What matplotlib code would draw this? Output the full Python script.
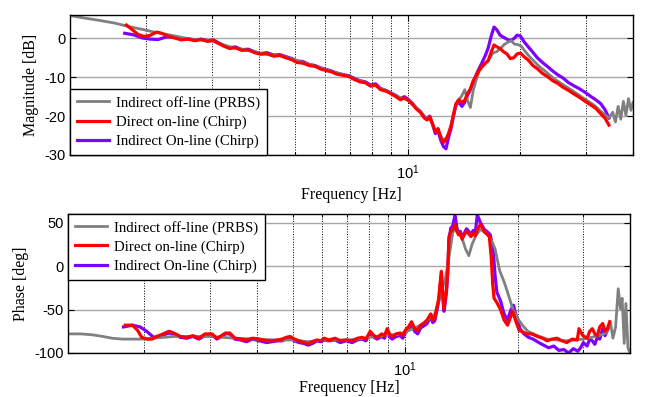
import matplotlib
matplotlib.use("Agg")
import matplotlib.pyplot as plt
from matplotlib.ticker import FixedLocator, NullFormatter, FixedFormatter

# ---------------- data ----------------
legend_labels = ["Indirect off-line (PRBS)", "Direct on-line (Chirp)", "Indirect On-line (Chirp)"]

# Magnitude [dB]
mag_red_f = [1.77, 1.83, 1.90, 1.97, 2.04, 2.13, 2.20, 2.28, 2.38, 2.48, 2.58, 2.70, 2.80, 2.92, 3.02, 3.10,
             3.22, 3.34, 3.46, 3.60, 3.75, 3.90, 4.05, 4.20, 4.38, 4.55, 4.72, 4.90, 5.05, 5.25, 5.45, 5.65,
             5.85, 6.05, 6.25, 6.45, 6.70, 6.95, 7.20, 7.45, 7.70, 7.95, 8.20, 8.45, 8.75, 9.00, 9.30, 9.55,
             9.80, 10.05, 10.30, 10.55, 10.80, 11.05, 11.25, 11.45, 11.65, 11.85, 12.05, 12.25, 12.45, 12.65,
             12.85, 13.05, 13.25, 13.45, 13.70, 13.95, 14.20, 14.45, 14.70, 14.95, 15.20, 15.50, 15.80, 16.10,
             16.40, 16.70, 17.00, 17.30, 17.65, 18.00, 18.40, 18.80, 19.20, 19.60, 20.00, 20.50, 21.00, 21.60,
             22.20, 22.90, 23.60, 24.40, 25.20, 26.00, 26.90, 27.80, 28.80, 29.80, 30.80, 31.80, 32.80, 33.70, 34.50]
mag_red = [3.4, 2.3, 1.0, 0.5, 0.7, 1.6, 1.3, 0.6, 0.1, -0.4, -0.2, -0.6, -0.3, -0.8, -0.5, -1.2,
           -2.0, -2.6, -2.4, -3.1, -3.0, -3.7, -4.1, -3.9, -4.6, -4.4, -5.0, -5.5, -6.2, -6.4, -7.0, -7.2,
           -7.9, -8.3, -8.6, -9.2, -9.5, -9.8, -10.6, -11.2, -11.4, -12.3, -12.0, -13.2, -13.6, -14.2, -15.0, -15.8,
           -15.3, -16.0, -17.0, -18.2, -19.0, -20.4, -21.0, -20.2, -22.0, -24.0, -23.2, -25.5, -26.8, -26.0,
           -24.5, -22.5, -19.5, -16.8, -15.8, -16.5, -15.9, -14.2, -13.0, -11.0, -9.8, -8.2, -7.2, -6.4,
           -5.8, -3.6, -1.7, -2.2, -2.6, -3.4, -4.0, -5.2, -5.0, -4.0, -3.8, -4.8, -5.6, -7.0,
           -7.8, -9.0, -9.8, -10.9, -11.6, -12.6, -13.4, -14.3, -15.2, -16.2, -17.1, -18.0, -19.4, -20.6, -22.3]

mag_pur_f = [1.75, 1.85, 1.95, 2.05, 2.15, 2.25, 2.35, 2.48, 2.58, 2.70, 2.80, 2.92, 3.02, 3.10,
             3.22, 3.34, 3.46, 3.60, 3.75, 3.90, 4.05, 4.20, 4.38, 4.55, 4.72, 4.90, 5.05, 5.25, 5.45, 5.65,
             5.85, 6.05, 6.25, 6.45, 6.70, 6.95, 7.20, 7.45, 7.70, 7.95, 8.20, 8.45, 8.75, 9.00, 9.30, 9.55,
             9.80, 10.05, 10.30, 10.55, 10.80, 11.05, 11.25, 11.45, 11.65, 11.85, 12.05, 12.25, 12.45, 12.65,
             12.85, 13.05, 13.25, 13.45, 13.70, 13.95, 14.20, 14.45, 14.70, 14.95, 15.20, 15.50, 15.80, 16.10,
             16.40, 16.70, 17.00, 17.30, 17.65, 18.00, 18.40, 18.80, 19.20, 19.60, 20.00, 20.50, 21.00, 21.60,
             22.20, 22.90, 23.60, 24.40, 25.20, 26.00, 26.90, 27.80, 28.80, 29.80, 30.80, 31.80, 32.80, 33.70, 34.50]
mag_pur = [1.3, 0.9, 0.1, -0.2, -0.3, 0.3, 0.4, -0.2, -0.1, -0.5, -0.2, -0.6, -0.4, -1.0,
           -1.8, -2.4, -2.2, -2.9, -2.8, -3.5, -3.9, -3.7, -4.3, -4.2, -4.7, -5.2, -5.8, -6.0, -6.7, -7.0,
           -7.6, -8.0, -8.4, -8.9, -9.3, -9.6, -10.3, -10.9, -11.2, -12.0, -11.7, -12.9, -13.4, -14.0, -14.7, -15.5,
           -15.0, -15.8, -16.8, -18.0, -18.8, -20.0, -20.8, -20.0, -22.2, -24.5, -23.8, -26.2, -27.8, -28.4,
           -25.5, -23.2, -20.0, -17.2, -16.4, -17.5, -16.4, -14.6, -13.2, -11.2, -9.6, -7.8, -6.2, -4.5,
           -2.5, 0.5, 2.9, 2.2, 0.8, 0.3, -0.2, -0.6, -0.1, 0.8, 0.6, -1.0, -2.2, -3.6,
           -5.0, -6.2, -7.2, -8.4, -9.4, -10.2, -11.4, -12.2, -13.0, -13.9, -14.9, -15.8, -16.8, -18.4, -20.5]

mag_gray_f = [1.24, 1.35, 1.50, 1.65, 1.80, 1.95, 2.10, 2.30, 2.50, 2.65, 2.80, 3.00, 3.20, 3.40, 3.60, 3.80,
              4.00, 4.30, 4.60, 4.90, 5.20, 5.50, 5.80, 6.10, 6.40, 6.70, 7.00, 7.30, 7.60, 7.90, 8.20, 8.50,
              8.80, 9.10, 9.40, 9.70, 10.00, 10.30, 10.60, 10.90, 11.20, 11.50, 11.80, 12.10, 12.40, 12.70,
              13.00, 13.30, 13.60, 13.90, 14.20, 14.45, 14.70, 14.95, 15.20, 15.50, 15.80, 16.10, 16.50, 16.90,
              17.30, 17.70, 18.10, 18.50, 18.90, 19.30, 19.70, 20.10, 20.60, 21.20, 21.80, 22.50, 23.20, 24.00,
              24.80, 25.70, 26.60, 27.50, 28.50, 29.50, 30.50, 31.50, 32.50, 33.50, 34.50, 35.30, 35.90, 36.50,
              37.10, 37.70, 38.30, 38.90, 39.50, 40.00]
mag_gray = [5.9, 5.3, 4.6, 3.9, 3.0, 2.3, 1.6, 0.9, 0.2, -0.2, -0.4, -0.7, -1.6, -2.4, -2.8, -3.2,
            -3.8, -4.3, -4.5, -5.3, -6.1, -6.8, -7.5, -8.2, -8.8, -9.3, -9.9, -10.7, -11.2, -12.0, -12.2, -13.0,
            -13.5, -14.3, -15.0, -15.4, -15.9, -16.9, -18.0, -19.4, -20.6, -21.0, -23.5, -24.0, -26.0, -25.8,
            -23.0, -19.0, -16.0, -15.0, -13.2, -16.0, -17.8, -13.5, -11.0, -8.6, -7.4, -6.6, -5.2, -3.8,
            -3.4, -2.6, -1.6, -1.0, -0.6, -1.5, -1.6, -2.0, -3.4, -4.8, -6.0, -7.3, -8.3, -9.5,
            -10.6, -11.6, -12.5, -13.4, -14.4, -15.4, -16.3, -17.2, -18.4, -19.5, -20.5, -19.0, -21.5, -17.5,
            -20.8, -16.2, -19.8, -15.5, -18.5, -16.5]

# Phase [deg]
ph_red_f = [1.78, 1.86, 1.92, 1.97, 2.04, 2.10, 2.16, 2.22, 2.33, 2.40, 2.50, 2.60, 2.70, 2.80, 2.91, 3.04,
            3.13, 3.22, 3.30, 3.39, 3.50, 3.62, 3.76, 3.90, 4.07, 4.25, 4.40, 4.55, 4.68, 4.80, 4.92, 5.05,
            5.20, 5.35, 5.50, 5.65, 5.80, 5.95, 6.07, 6.25, 6.49, 6.70, 6.95, 7.21, 7.45, 7.67, 7.85, 8.06,
            8.25, 8.41, 8.65, 8.80, 8.95, 9.10, 9.23, 9.45, 9.69, 9.85, 10.00, 10.20, 10.40, 10.60, 10.80,
            11.00, 11.20, 11.45, 11.70, 11.85, 12.00, 12.20, 12.30, 12.40, 12.50, 12.60, 12.70, 12.80, 12.90,
            13.00, 13.10, 13.25, 13.40, 13.60, 13.75, 13.90, 14.05, 14.20, 14.40, 14.60, 14.80, 15.00, 15.20,
            15.40, 15.60, 15.90, 16.10, 16.30, 16.55, 16.80, 17.00, 17.15, 17.30, 17.60, 18.00, 18.40, 18.80,
            19.10, 19.40, 19.80, 20.20, 20.70, 21.20, 21.80, 22.60, 23.30, 24.00, 24.70, 25.50, 26.30, 27.10,
            28.00, 28.90, 29.20, 29.90, 30.70, 31.20, 31.70, 32.20, 32.70, 33.20, 33.80, 34.30, 34.80, 35.30]
ph_red = [-68, -68, -74, -82, -84, -84, -81, -79, -75, -77, -81, -82, -80, -83, -78, -78,
          -83, -80, -77, -77, -83, -84, -85, -83, -84, -86, -86, -85, -84, -82, -81, -84,
          -86, -88, -89, -87, -85, -86, -83, -85, -83, -86, -85, -86, -83, -82, -84, -75,
          -80, -82, -78, -80, -72, -79, -81, -78, -77, -80, -74, -70, -64, -72, -74,
          -68, -66, -62, -55, -62, -60, -45, -37, -20, -6, -30, -49, -38, -26,
          -5, 34, 40, 42, 48, 40, 36, 38, 31, 36, 40, 37, 34, 38,
          35, 42, 48, 44, 39, 37, 34, 10, -20, -37, -42, -50, -62, -68,
          -60, -52, -64, -74, -76, -78, -78, -81, -83, -86, -84, -83, -86, -88,
          -84, -85, -72, -80, -83, -75, -72, -78, -80, -70, -66, -75, -72, -64]

ph_pur_f = [1.76, 1.86, 1.95, 2.03, 2.12, 2.22, 2.33, 2.40, 2.50, 2.60, 2.70, 2.80, 2.91, 3.04,
            3.13, 3.22, 3.30, 3.39, 3.50, 3.62, 3.76, 3.90, 4.07, 4.25, 4.40, 4.55, 4.68, 4.80, 4.92, 5.05,
            5.20, 5.35, 5.50, 5.65, 5.80, 5.95, 6.07, 6.25, 6.49, 6.70, 6.95, 7.21, 7.45, 7.67, 7.85, 8.06,
            8.25, 8.41, 8.65, 8.80, 8.95, 9.10, 9.23, 9.45, 9.69, 9.85, 10.00, 10.20, 10.40, 10.60, 10.80,
            11.00, 11.20, 11.45, 11.70, 11.85, 12.00, 12.20, 12.30, 12.40, 12.50, 12.60, 12.70, 12.80, 12.90,
            13.00, 13.10, 13.25, 13.40, 13.60, 13.75, 13.90, 14.05, 14.20, 14.40, 14.60, 14.80, 15.00, 15.20,
            15.40, 15.60, 15.90, 16.10, 16.30, 16.55, 16.90, 17.20, 17.40, 17.60, 18.00, 18.40, 18.80,
            19.20, 19.50, 19.90, 20.30, 20.80, 21.40, 22.00, 22.80, 23.50, 24.20, 25.00, 25.80, 26.60, 27.40,
            28.20, 29.00, 29.50, 30.00, 30.70, 31.20, 31.70, 32.20, 32.70, 33.20, 33.80, 34.30, 34.80, 35.30]
ph_pur = [-70, -68, -70, -75, -82, -80, -77, -78, -82, -83, -81, -84, -80, -79,
          -84, -81, -78, -78, -84, -85, -87, -84, -86, -88, -87, -86, -86, -84, -83, -86,
          -88, -89, -91, -89, -86, -87, -85, -86, -85, -88, -86, -88, -85, -84, -86, -77,
          -82, -84, -81, -83, -76, -82, -84, -81, -80, -83, -77, -73, -67, -75, -78,
          -71, -69, -66, -58, -65, -63, -48, -40, -24, -10, -34, -52, -42, -30,
          -8, 30, 44, 46, 59, 44, 38, 40, 33, 38, 43, 40, 36, 41,
          38, 59, 50, 46, 42, 40, 36, 20, -10, -30, -40, -55, -62,
          -50, -45, -60, -72, -78, -82, -84, -88, -91, -94, -92, -97, -96, -100,
          -95, -98, -94, -88, -92, -84, -86, -90, -82, -84, -72, -80, -74, -68]

ph_gray_f = [1.24, 1.35, 1.45, 1.55, 1.64, 1.75, 1.85, 2.00, 2.10, 2.25, 2.40, 2.60, 2.80, 3.00, 3.50, 4.00,
             4.50, 5.00, 5.50, 6.00, 6.50, 7.00, 7.50, 8.00, 8.50, 9.00, 9.50, 10.00, 10.50, 11.00, 11.50,
             12.00, 12.40, 12.80, 13.10, 13.40, 13.60, 13.90, 14.20, 14.50, 14.80, 15.10, 15.50, 15.90, 16.30,
             16.80, 17.00, 17.40, 17.90, 18.40, 18.80, 19.40, 20.00, 20.60, 21.30, 22.60, 24.00, 25.50, 27.00,
             28.50, 30.00, 31.50, 33.00, 34.50, 35.50, 36.00, 36.60, 37.20, 37.70, 38.10, 38.60, 39.00, 39.50, 40.00]
ph_gray = [-78, -78, -79, -81, -83, -84, -84, -84, -83, -82, -81, -81, -81, -81, -83, -84,
           -85, -85, -87, -85, -85, -85, -84, -82, -81, -79, -79, -76, -72, -68, -62,
           -55, -35, -15, 10, 38, 44, 38, 32, 20, 12, 25, 36, 42, 40,
           34, 30, 20, -5, -18, -30, -49, -60, -68, -75, -80, -84, -85, -86,
           -85, -84, -82, -80, -77, -66, -83, -70, -26, -49, -37, -89, -43, -94, -100]

# ---------------- style ----------------
C_GRAY = "#808080"
C_RED = "#ff0000"
C_PUR = "#7f00ff"
SERIF = ["Liberation Serif", "DejaVu Serif"]
SANS = ["Liberation Sans", "DejaVu Sans"]

plt.rcParams["font.family"] = SANS
plt.rcParams["font.size"] = 10.5
plt.rcParams["mathtext.fontset"] = "custom"
plt.rcParams["mathtext.rm"] = "Liberation Sans"

fig = plt.figure(figsize=(6.45, 3.97), dpi=100)
W, H = 645.0, 397.0
ax1 = fig.add_axes([70 / W, 1 - 155 / H, 563 / W, 140 / H])
ax2 = fig.add_axes([68 / W, 1 - 353 / H, 562 / W, 139 / H])


def style(ax, ylim, yticks, ylabel, ylabelpad, xlabelpad, xpad):
    ax.set_xscale("log")
    ax.set_xlim(1.25, 40)
    ax.set_ylim(*ylim)
    ax.set_yticks(yticks)
    ax.set_yticklabels([str(v) for v in yticks])
    ax.xaxis.set_major_locator(FixedLocator([10]))
    ax.xaxis.set_major_formatter(FixedFormatter([r"$\mathregular{10^{1}}$"]))
    ax.xaxis.set_minor_locator(FixedLocator([2, 3, 4, 5, 6, 7, 8, 9, 20, 30, 40]))
    ax.xaxis.set_minor_formatter(NullFormatter())
    ax.tick_params(which="both", direction="in", top=True, right=True, width=0.8, colors="black")
    ax.tick_params(which="major", length=4, labelsize=10.5)
    ax.tick_params(axis="x", which="major", pad=xpad)
    ax.tick_params(axis="y", which="major", pad=3)
    ax.tick_params(which="minor", length=2.5)
    ax.grid(True, which="both", axis="x", color="black", ls=":", lw=0.7)
    ax.grid(True, which="major", axis="y", color="#a8a8a8", ls="-", lw=1.0)
    for s in ax.spines.values():
        s.set_linewidth(1.0)
        s.set_color("black")
    ax.set_axisbelow(True)
    ax.set_xlabel("Frequency [Hz]", family=SERIF, fontsize=11.5, labelpad=xlabelpad)
    ax.set_ylabel(ylabel, family=SERIF, fontsize=11.5, labelpad=ylabelpad)


style(ax1, (-30, 6), [-30, -20, -10, 0], "Magnitude [dB]", 4, 4, 6)
style(ax2, (-100, 60), [-100, -50, 0, 50], "Phase [deg]", 4, 1, 5)

for ax, (gf, gv), (rf, rv), (pf, pv), loc in [
    (ax1, (mag_gray_f, mag_gray), (mag_red_f, mag_red), (mag_pur_f, mag_pur), "lower left"),
    (ax2, (ph_gray_f, ph_gray), (ph_red_f, ph_red), (ph_pur_f, ph_pur), "upper left"),
]:
    lp, = ax.plot(pf, pv, color=C_PUR, lw=2.3, solid_joinstyle="round")
    lg, = ax.plot(gf, gv, color=C_GRAY, lw=2.0, solid_joinstyle="round")
    lr, = ax.plot(rf, rv, color=C_RED, lw=2.3, solid_joinstyle="round")
    leg = ax.legend([lg, lr, lp], legend_labels, loc=loc, prop={"family": SERIF, "size": 10.7},
                    frameon=True, fancybox=False, framealpha=1, edgecolor="black",
                    borderaxespad=0, handlelength=2.2, handletextpad=0.45, labelspacing=0.38,
                    borderpad=0.45)
    leg.get_frame().set_linewidth(1.0)

fig.savefig("out.png", dpi=100)
